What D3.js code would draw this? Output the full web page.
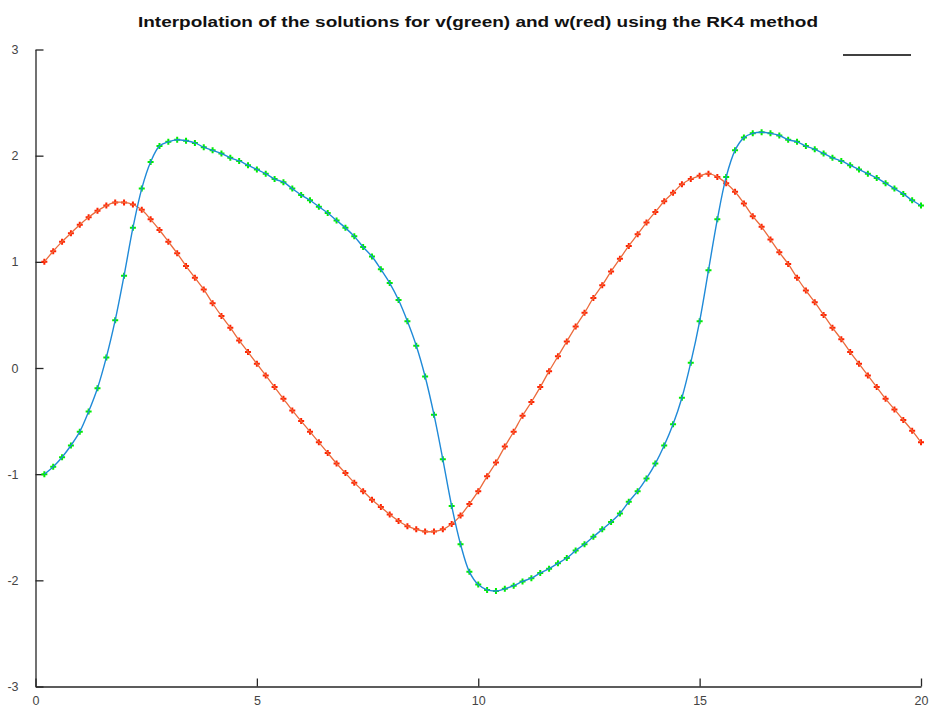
<!DOCTYPE html>
<html>
<head>
<meta charset="utf-8">
<script src="https://cdn.jsdelivr.net/npm/d3@7"></script>
<style>
  body { margin: 0; background: #fff; }
  svg { display: block; font-family: "Liberation Sans", Arial, sans-serif; }
</style>
</head>
<body>
<svg id="chart" width="929" height="711"></svg>
<script>
// RK4 step and sample times (points plotted at k*h, k = 1..100)
const stepSize = 0.2;
const times = d3.range(1, 101).map(k => +(k * stepSize).toFixed(1));

// v (green markers, blue interpolation)
const vValues = [
  -1.00, -0.93, -0.84, -0.73, -0.60, -0.41, -0.19, 0.10, 0.45, 0.87,
  1.32, 1.69, 1.94, 2.09, 2.13, 2.15, 2.14, 2.12, 2.08, 2.05,
  2.02, 1.98, 1.95, 1.91, 1.87, 1.83, 1.78, 1.75, 1.69, 1.63,
  1.58, 1.52, 1.46, 1.39, 1.32, 1.24, 1.14, 1.05, 0.93, 0.80,
  0.64, 0.44, 0.21, -0.08, -0.44, -0.86, -1.30, -1.66, -1.92, -2.04,
  -2.09, -2.10, -2.08, -2.05, -2.01, -1.98, -1.93, -1.89, -1.84, -1.79,
  -1.72, -1.66, -1.59, -1.52, -1.45, -1.37, -1.26, -1.16, -1.04, -0.90,
  -0.73, -0.53, -0.28, 0.05, 0.44, 0.92, 1.40, 1.80, 2.05, 2.17,
  2.21, 2.22, 2.21, 2.19, 2.15, 2.13, 2.09, 2.06, 2.02, 1.98,
  1.95, 1.91, 1.87, 1.83, 1.79, 1.74, 1.69, 1.64, 1.58, 1.53
];

// w (red markers, red interpolation)
const wValues = [
  1.00, 1.10, 1.19, 1.27, 1.35, 1.42, 1.48, 1.53, 1.56, 1.56,
  1.54, 1.49, 1.40, 1.30, 1.19, 1.08, 0.96, 0.85, 0.74, 0.61,
  0.49, 0.38, 0.26, 0.15, 0.04, -0.07, -0.18, -0.29, -0.40, -0.50,
  -0.60, -0.70, -0.80, -0.90, -0.99, -1.08, -1.16, -1.24, -1.31, -1.38,
  -1.44, -1.49, -1.52, -1.54, -1.54, -1.52, -1.47, -1.39, -1.28, -1.16,
  -1.02, -0.89, -0.74, -0.60, -0.45, -0.32, -0.18, -0.03, 0.11, 0.25,
  0.39, 0.52, 0.66, 0.78, 0.91, 1.03, 1.15, 1.26, 1.37, 1.47,
  1.57, 1.65, 1.73, 1.78, 1.81, 1.83, 1.80, 1.74, 1.66, 1.55,
  1.43, 1.33, 1.21, 1.09, 0.98, 0.85, 0.73, 0.62, 0.50, 0.38,
  0.27, 0.15, 0.04, -0.07, -0.18, -0.29, -0.39, -0.49, -0.59, -0.70
];

const xTicks = [0, 5, 10, 15, 20];
const yTicks = [-3, -2, -1, 0, 1, 2, 3];
const title = "Interpolation of the solutions for v(green) and w(red) using the RK4 method";

const svg = d3.select("#chart");

const x = d3.scaleLinear().domain([0, 20]).range([35.5, 921]);
const y = d3.scaleLinear().domain([-3, 3]).range([686.5, 49.5]);

// title
svg.append("text")
  .attr("x", 478).attr("y", 27)
  .attr("text-anchor", "middle")
  .attr("font-size", 15)
  .attr("font-weight", "bold")
  .attr("fill", "#111")
  .attr("textLength", 680)
  .attr("lengthAdjust", "spacingAndGlyphs")
  .text(title);

// axes (left + bottom only, ticks pointing inward)
const fmt = d => String(d);
const xAxis = svg.append("g")
  .attr("transform", `translate(0,${y(-3)})`)
  .call(d3.axisBottom(x).tickValues(xTicks).tickFormat(fmt)
    .tickSizeInner(-8).tickSizeOuter(0).tickPadding(10));

const yAxis = svg.append("g")
  .attr("transform", `translate(${x(0)},0)`)
  .call(d3.axisLeft(y).tickValues(yTicks).tickFormat(fmt)
    .tickSizeInner(-8).tickSizeOuter(0).tickPadding(17));

for (const g of [xAxis, yAxis]) {
  g.select(".domain").attr("stroke", "#262626").attr("stroke-width", 1.3);
  g.selectAll(".tick line").attr("stroke", "#262626").attr("stroke-width", 1.3);
  g.selectAll(".tick text").attr("fill", "#444").attr("font-size", 12.5)
    .attr("font-family", "Liberation Sans, Arial, sans-serif");
}

// legend line (no label)
svg.append("line")
  .attr("x1", 843).attr("x2", 911)
  .attr("y1", 55).attr("y2", 55)
  .attr("stroke", "#000").attr("stroke-width", 1.6);

function series(values, markerColor) {
  const pts = times.map((t, i) => [t, values[i]]);
  svg.append("g").selectAll("path")
    .data(pts).enter().append("path")
      .attr("transform", d => `translate(${x(d[0])},${y(d[1])})`)
      .attr("d", d3.symbol(d3.symbolCross, 20))
      .attr("fill", markerColor);
  return pts;
}

const wPts = series(wValues, "#ff2200");
const vPts = series(vValues, "#00ee00");

const line = d3.line()
  .x(d => x(d[0]))
  .y(d => y(d[1]))
  .curve(d3.curveCatmullRom.alpha(0.5));

svg.append("path").datum(wPts)
  .attr("fill", "none").attr("stroke", "#ec6a3c").attr("stroke-width", 1.3)
  .attr("d", line);

svg.append("path").datum(vPts)
  .attr("fill", "none").attr("stroke", "#1f8ad8").attr("stroke-width", 1.4)
  .attr("d", line);
</script>
</body>
</html>
